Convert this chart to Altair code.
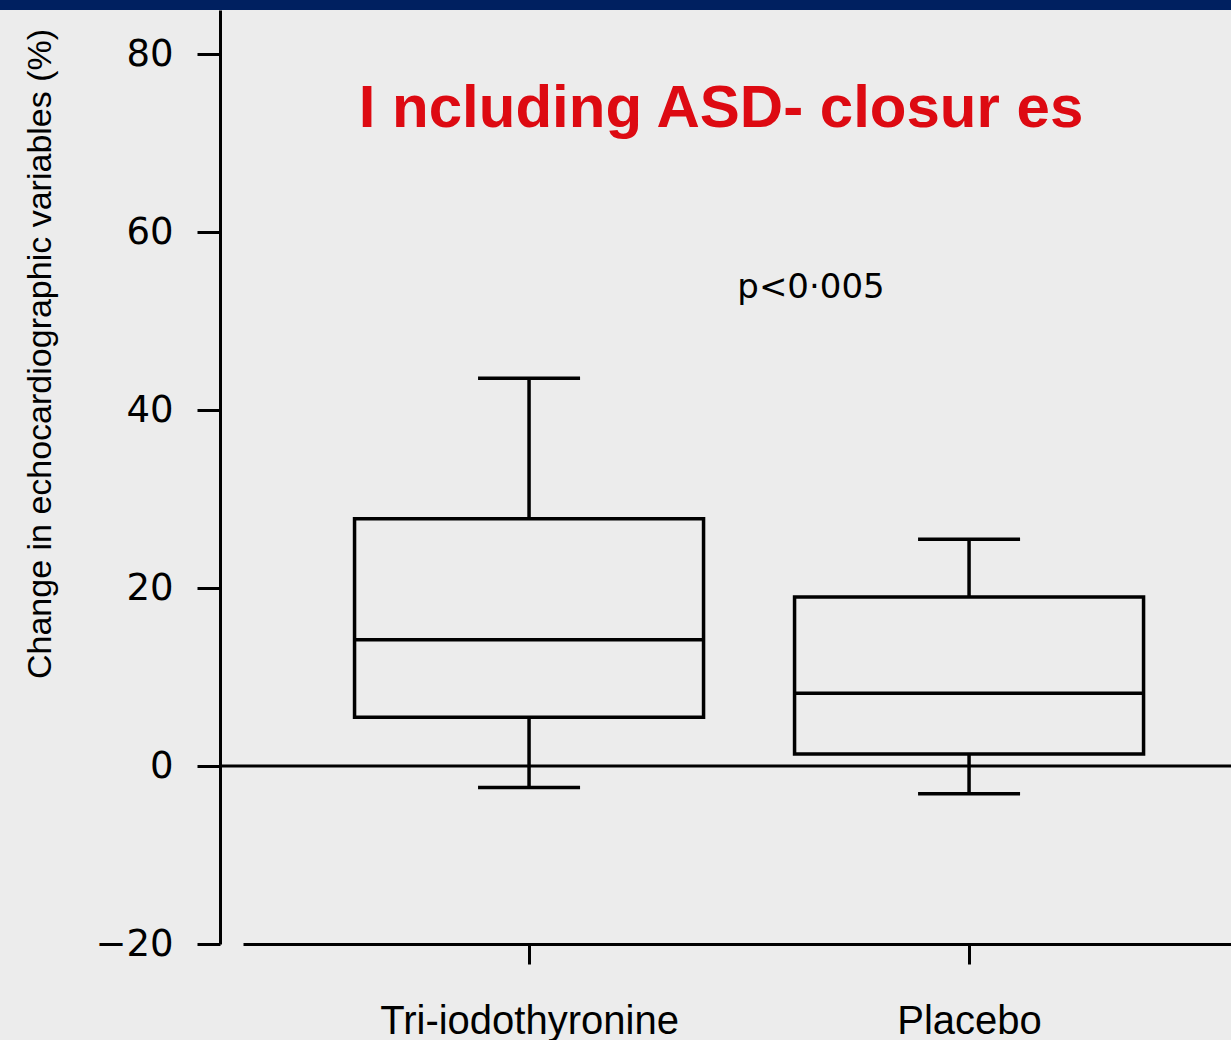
import altair as alt
import pandas as pd

groups = ["Tri-iodothyronine", "Placebo"]
whisker_low = [-2.4, -3.1]
q1 = [5.5, 1.35]
median = [14.2, 8.2]
q3 = [27.8, 19.0]
whisker_high = [43.6, 25.5]

y_ticks = [-20, 0, 20, 40, 60, 80]
title_text = "I ncluding ASD- closur es"
p_text = "p<0·005"
y_title = "Change in echocardiographic variables (%)"

df = pd.DataFrame({
    "group": groups,
    "lo": whisker_low,
    "q1": q1,
    "med": median,
    "q3": q3,
    "hi": whisker_high,
})

W, H = 988, 934
BG = "#ececec"

xscale = alt.Scale(type="point", domain=groups, padding=0.6227, align=0.522)
yscale = alt.Scale(domain=[-20, 85], nice=False, zero=False)

xenc = alt.X("group:N", scale=xscale, sort=groups,
             axis=alt.Axis(title=None, domainColor="black", domainWidth=3,
                           tickColor="black", tickWidth=3, tickSize=20,
                           labelFont="Liberation Sans", labelFontSize=40,
                           labelColor="black", labelAngle=0, labelLimit=0,
                           labelBaseline="alphabetic", labelPadding=69,
                           grid=False))
yaxis = alt.Axis(values=y_ticks, title=y_title, offset=23,
                 domainColor="black", domainWidth=3,
                 tickColor="black", tickWidth=3, tickSize=23,
                 labelFont="DejaVu Sans", labelFontSize=37, labelColor="black",
                 labelPadding=24, grid=False,
                 titleFont="Liberation Sans", titleFontSize=34,
                 titleFontWeight="normal", titleColor="black",
                 titleAngle=270, titleX=-170, titleY=343.5, titleLimit=0,
                 titleAlign="center", titleBaseline="alphabetic")

base = alt.Chart(df)

whisk_low = base.mark_rule(color="black", strokeWidth=3.5).encode(
    x=xenc, y=alt.Y("lo:Q", scale=yscale, axis=yaxis), y2="q1:Q")
whisk_high = base.mark_rule(color="black", strokeWidth=3.5).encode(
    x="group:N", y="q3:Q", y2="hi:Q")
box = base.mark_bar(size=349, fill=BG, stroke="black", strokeWidth=3.5).encode(
    x="group:N", y="q1:Q", y2="q3:Q")
med = base.mark_tick(size=349, thickness=3.5, color="black", opacity=1).encode(
    x="group:N", y="med:Q")
cap_lo = base.mark_tick(size=102, thickness=3.5, color="black", opacity=1).encode(
    x="group:N", y="lo:Q")
cap_hi = base.mark_tick(size=102, thickness=3.5, color="black", opacity=1).encode(
    x="group:N", y="hi:Q")

zero = alt.Chart(pd.DataFrame({"v": [0]})).mark_rule(color="black", strokeWidth=3).encode(
    y="v:Q", x=alt.value(-23), x2=alt.value(W))

band = alt.Chart(pd.DataFrame({"v": [0]})).mark_rect(color="#002060").encode(
    x=alt.value(-243), x2=alt.value(W), y=alt.value(-10), y2=alt.value(0))

title = alt.Chart(pd.DataFrame({"t": [title_text]})).mark_text(
    font="Liberation Sans", fontSize=60, fontWeight="bold", color="#dd0a12",
    align="center", baseline="alphabetic").encode(
    text="t:N", x=alt.value(478), y=alt.value(117))

ptxt = alt.Chart(pd.DataFrame({"t": [p_text]})).mark_text(
    font="DejaVu Sans", fontSize=34, color="black",
    align="center", baseline="alphabetic").encode(
    text="t:N", x=alt.value(568), y=alt.value(288))

chart = alt.layer(zero, whisk_low, whisk_high, box, med, cap_lo, cap_hi,
                  title, ptxt, band).properties(
    width=W, height=H, background=BG,
    autosize=alt.AutoSizeParams(type="none"),
    padding={"left": 243, "top": 10, "right": 0, "bottom": 96},
).configure_view(stroke=None)

chart.save("out.html", embed_options={"renderer": "svg", "actions": False})
